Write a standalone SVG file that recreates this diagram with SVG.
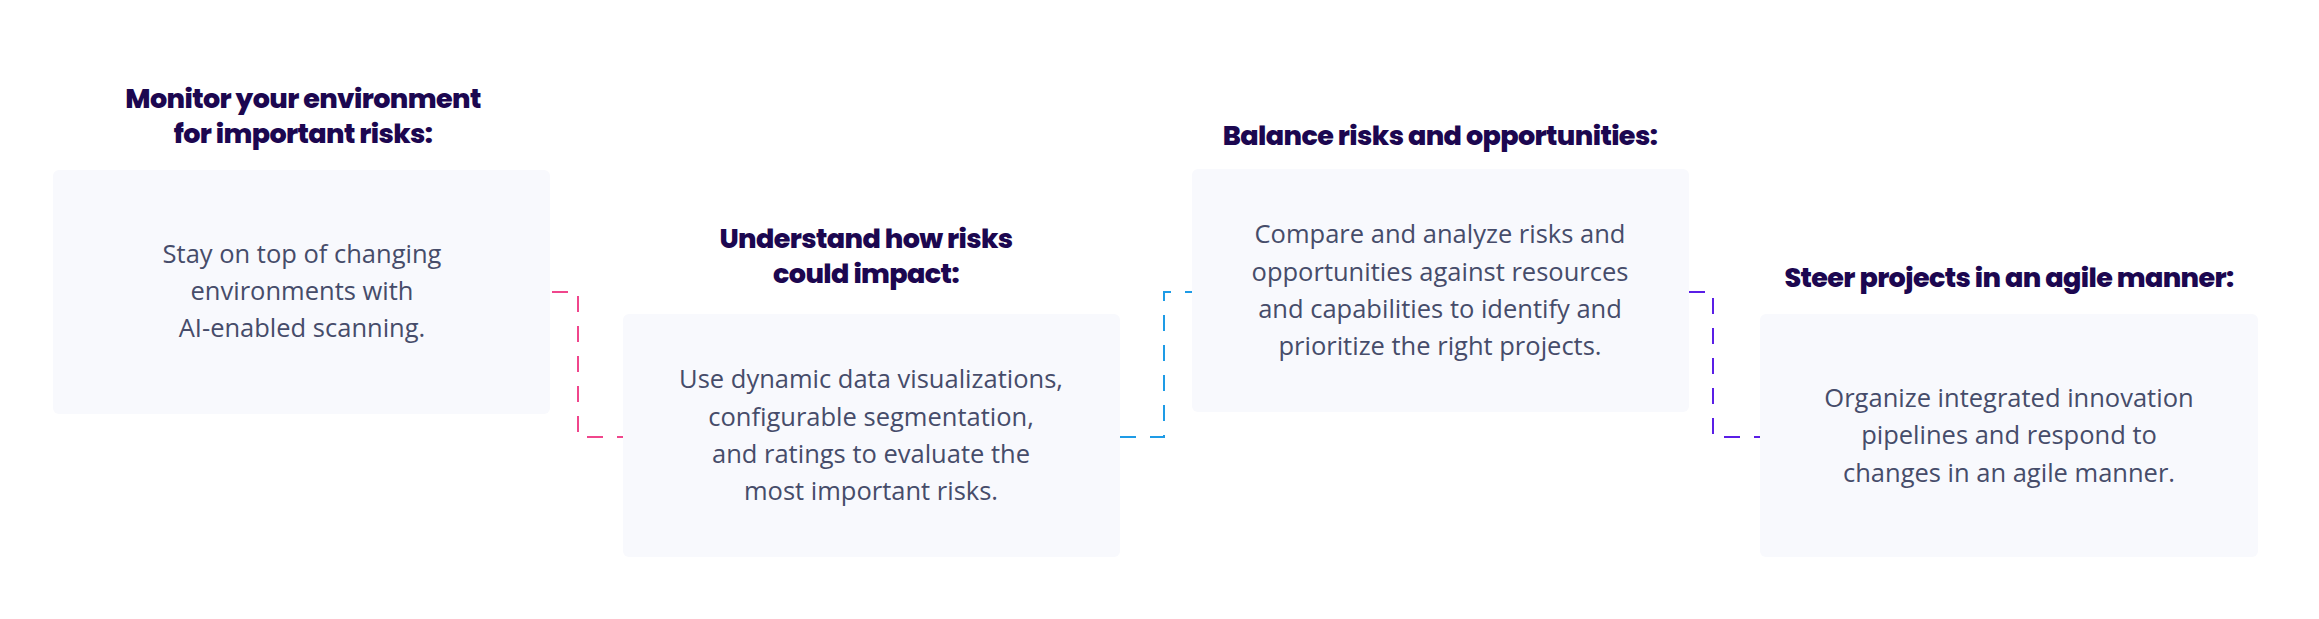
<svg xmlns="http://www.w3.org/2000/svg" width="2319" height="619" viewBox="0 0 2319 619">
<style>
.box{fill:#f8f9fd}
.t{font-family:Poppins,Inter,"Noto Sans",sans-serif;font-weight:800;font-size:27px;fill:#1c0750;text-anchor:middle;letter-spacing:-0.6px}
.b{font-family:"Open Sans","Noto Sans",sans-serif;font-size:25.5px;fill:#464c6a;text-anchor:middle}
.c{fill:none;stroke-width:2;stroke-dasharray:16 14}
</style>
<rect width="2319" height="619" fill="#fff"/>
<g id="connectors">
<path class="c" stroke="#f0468c" d="M552 292H578V437H623"/>
<path class="c" stroke="#1e9be6" d="M1120 437H1164V292H1192"/>
<path class="c" stroke="#5a1ee6" d="M1689 292H1713V437H1760"/>
</g>
<g id="n1">
<text class="t" x="303" y="108">Monitor your environment</text>
<text class="t" x="303" y="143">for important risks:</text>
<rect class="box" x="53" y="170" width="497" height="244" rx="6"/>
<text class="b" x="302" y="263">Stay on top of changing</text>
<text class="b" x="302" y="300">environments with</text>
<text class="b" x="302" y="337">AI-enabled scanning.</text>
</g>
<g id="n2">
<text class="t" x="866" y="248">Understand how risks</text>
<text class="t" x="866" y="283">could impact:</text>
<rect class="box" x="623" y="314" width="497" height="243" rx="6"/>
<text class="b" x="871" y="388">Use dynamic data visualizations,</text>
<text class="b" x="871" y="426">configurable segmentation,</text>
<text class="b" x="871" y="463">and ratings to evaluate the</text>
<text class="b" x="871" y="500">most important risks.</text>
</g>
<g id="n3">
<text class="t" x="1440" y="145">Balance risks and opportunities:</text>
<rect class="box" x="1192" y="169" width="497" height="243" rx="6"/>
<text class="b" x="1440" y="243">Compare and analyze risks and</text>
<text class="b" x="1440" y="281">opportunities against resources</text>
<text class="b" x="1440" y="318">and capabilities to identify and</text>
<text class="b" x="1440" y="355">prioritize the right projects.</text>
</g>
<g id="n4">
<text class="t" x="2009" y="287">Steer projects in an agile manner:</text>
<rect class="box" x="1760" y="314" width="498" height="243" rx="6"/>
<text class="b" x="2009" y="407">Organize integrated innovation</text>
<text class="b" x="2009" y="444">pipelines and respond to</text>
<text class="b" x="2009" y="482">changes in an agile manner.</text>
</g>
</svg>
